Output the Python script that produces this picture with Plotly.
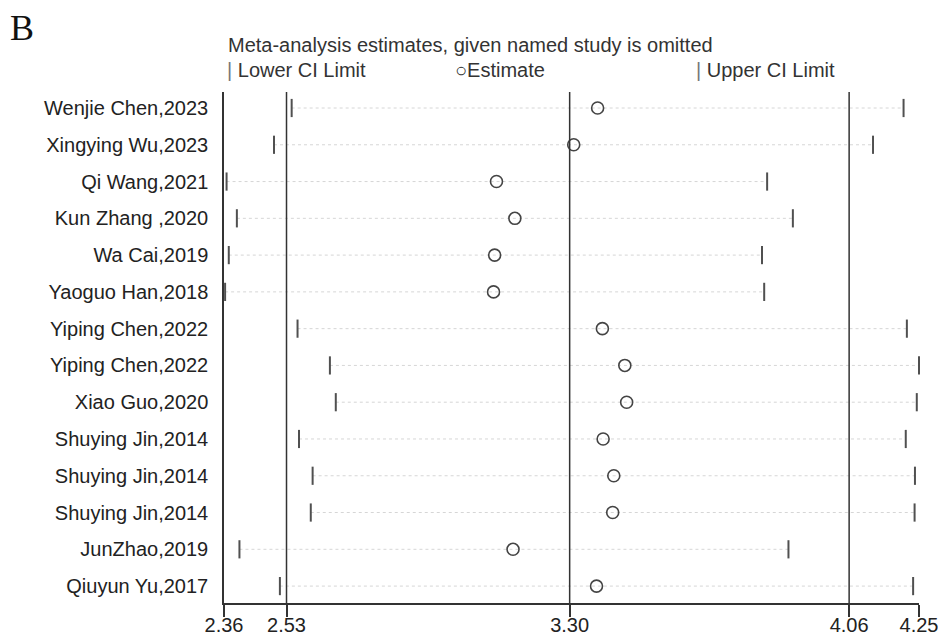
import plotly.graph_objects as go

# ---- data ----
studies = [
    "Wenjie Chen,2023", "Xingying Wu,2023", "Qi Wang,2021", "Kun Zhang ,2020",
    "Wa Cai,2019", "Yaoguo Han,2018", "Yiping Chen,2022", "Yiping Chen,2022",
    "Xiao Guo,2020", "Shuying Jin,2014", "Shuying Jin,2014", "Shuying Jin,2014",
    "JunZhao,2019", "Qiuyun Yu,2017",
]
lower_ci = [2.544, 2.496, 2.367, 2.395, 2.373, 2.363, 2.560, 2.648,
            2.664, 2.564, 2.601, 2.596, 2.402, 2.512]
estimate = [3.376, 3.311, 3.101, 3.151, 3.096, 3.093, 3.389, 3.450,
            3.455, 3.391, 3.420, 3.417, 3.146, 3.373]
upper_ci = [4.208, 4.125, 3.837, 3.907, 3.823, 3.829, 4.217, 4.250,
            4.244, 4.214, 4.239, 4.238, 3.895, 4.234]
ref_lines = [2.53, 3.30, 4.06]          # overall lower CI, estimate, upper CI
tick_vals = [2.36, 2.53, 3.30, 4.06, 4.25]
tick_text = ["2.36", "2.53", "3.30", "4.06", "4.25"]

rows = list(range(len(studies)))
FONT = "Liberation Sans, Arial, sans-serif"
DARK = "#333333"
MARK = "#505050"

fig = go.Figure()

# dotted connectors from lower to upper limit
cx, cy = [], []
for r, lo, up in zip(rows, lower_ci, upper_ci):
    cx += [lo, up, None]
    cy += [r, r, None]
fig.add_trace(go.Scatter(x=cx, y=cy, mode="lines",
                         line=dict(color="#d6d6d6", width=1, dash="dot"),
                         hoverinfo="skip", showlegend=False))

fig.add_trace(go.Scatter(x=lower_ci, y=rows, mode="markers", name="Lower CI Limit",
                         marker=dict(symbol="line-ns-open", size=13, color=MARK,
                                     line=dict(color=MARK, width=2)),
                         cliponaxis=False, showlegend=False))
fig.add_trace(go.Scatter(x=upper_ci, y=rows, mode="markers", name="Upper CI Limit",
                         marker=dict(symbol="line-ns-open", size=13, color=MARK,
                                     line=dict(color=MARK, width=2)),
                         cliponaxis=False, showlegend=False))
fig.add_trace(go.Scatter(x=estimate, y=rows, mode="markers", name="Estimate",
                         marker=dict(symbol="circle-open", size=12, color="#444444",
                                     line=dict(color="#444444", width=1.6)),
                         cliponaxis=False, showlegend=False))

for v in ref_lines:
    fig.add_shape(type="line", xref="x", yref="paper", x0=v, x1=v, y0=0, y1=1,
                  line=dict(color=DARK, width=1.5), layer="above")

# page body adds an 8px offset; target plot area in window: x 224..919, y 92..603
OFF = 8
WIN_W, WIN_H = 946, 635
W, H = WIN_W - OFF, WIN_H - OFF
PL, PR, PT, PB = 224, 919, 92, 603
L, R, T, B = PL - OFF, WIN_W - PR, PT - OFF, WIN_H - PB
pw, ph = PR - PL, PB - PT

def px(x):
    return (x - PL) / pw

def py(y):
    return (PB - y) / ph

annots = [
    dict(text="B", x=px(8), y=py(28), font=dict(family="Liberation Serif, Times New Roman, serif",
                                                 size=36, color="#111111")),
    dict(text="Meta-analysis estimates, given named study is omitted",
         x=px(226), y=py(45), font=dict(family=FONT, size=20, color=DARK)),
    dict(text="<span style='color:#777777'>|</span> Lower CI Limit",
         x=px(225), y=py(70), font=dict(family=FONT, size=20, color=DARK)),
    dict(text="○Estimate",
         x=px(453), y=py(70), font=dict(family=FONT, size=20, color=DARK)),
    dict(text="<span style='color:#777777'>|</span> Upper CI Limit",
         x=px(694), y=py(70), font=dict(family=FONT, size=20, color=DARK)),
]
for a in annots:
    fig.add_annotation(xref="paper", yref="paper", xanchor="left", yanchor="middle",
                       showarrow=False, **a)

fig.update_layout(
    width=W, height=H,
    margin=dict(l=L, r=R, t=T, b=B),
    paper_bgcolor="white", plot_bgcolor="white",
    font=dict(family=FONT, size=20, color="#222222"),
    showlegend=False,
)
fig.update_xaxes(range=[2.36, 4.25], tickvals=tick_vals, ticktext=tick_text,
                 showgrid=False, zeroline=False, showline=True, linecolor=DARK,
                 linewidth=1.5, ticks="outside", ticklen=12, tickwidth=1.5,
                 tickcolor=DARK, tickfont=dict(size=20, color="#222222"),
                 ticklabelstandoff=-9, automargin=False)
fig.update_yaxes(range=[13.46, -0.435], tickvals=rows, ticktext=studies,
                 showgrid=False, zeroline=False, showline=True, linecolor=DARK,
                 linewidth=1.5, ticks="", ticklabelstandoff=10,
                 tickfont=dict(size=20, color="#222222"), automargin=False)

fig.write_html("out.html")
